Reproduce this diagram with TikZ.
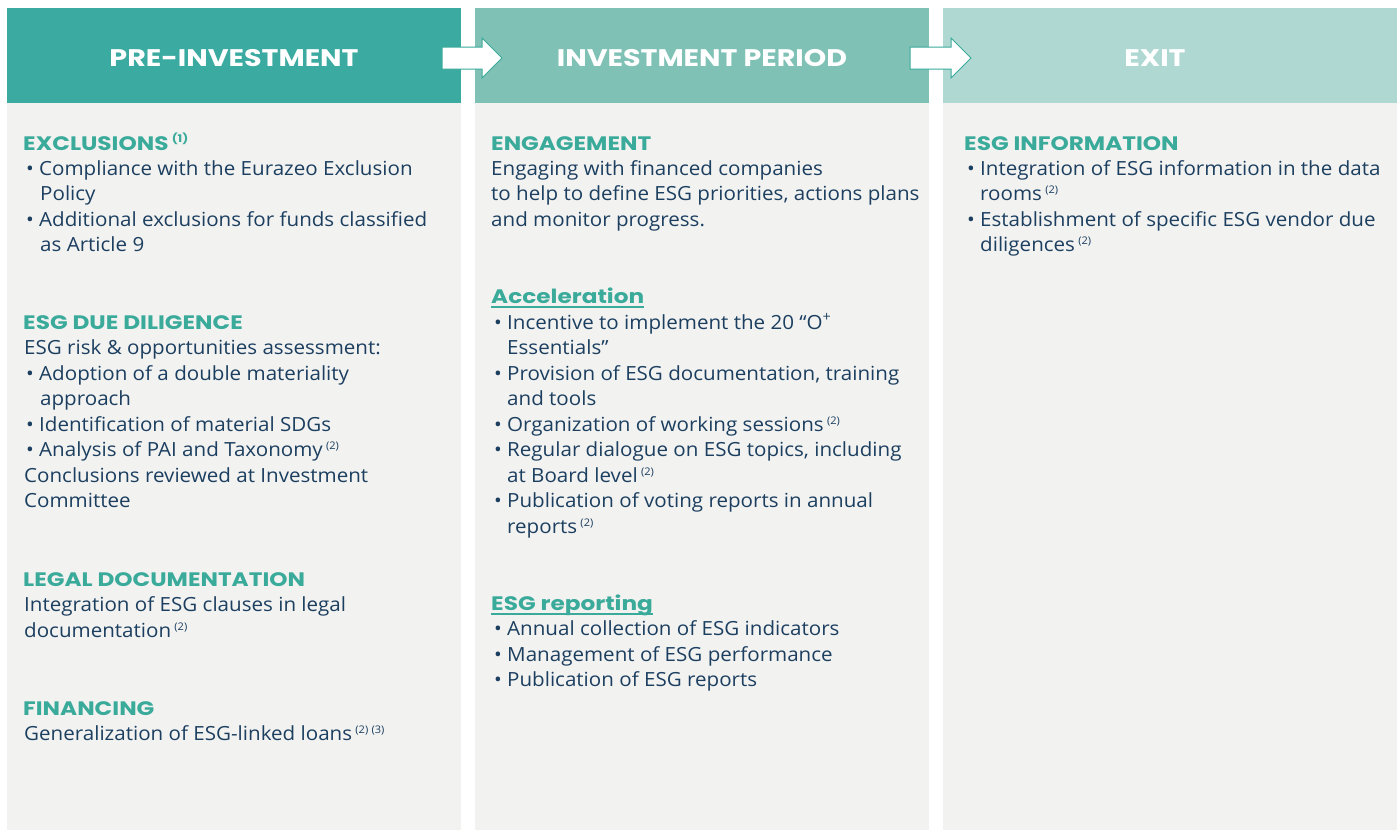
\documentclass[tikz,border=0pt]{standalone}
\usepackage{fontspec}
\setmainfont[FakeStretch=1.055]{Open Sans}
\newfontfamily\headfont[FakeStretch=1.19]{Poppins}
\definecolor{hdA}{HTML}{3BAAA0}
\definecolor{hdB}{HTML}{80C1B6}
\definecolor{hdC}{HTML}{AFD8D3}
\definecolor{panel}{HTML}{F2F2F1}
\definecolor{tealh}{HTML}{3AAA9A}
\definecolor{navy}{HTML}{1C3F60}
\newcommand\fnote[1]{\,\raisebox{0.65ex}{\fontsize{10.5}{11}\selectfont(#1)}}
\newcommand\mytext[4]{\node[body] (#1) at (#2,#3) {#4};}
\newcommand\mybul[4]{\node[body] (#1b) at (#2,#3) {\textbullet}; \node[body] (#1) at (#2+13,#3) {#4};}
\newcommand\myhead[4]{\node[sect] (#1) at (#2,#3) {#4};}
\begin{document}
\begin{tikzpicture}[x=1pt,y=-1pt,
  body/.style={anchor=base west, inner sep=0pt, font=\fontsize{19.5}{23}\selectfont, text=navy},
  sect/.style={anchor=base west, inner sep=0pt, font=\headfont\bfseries\fontsize{19.5}{23}\selectfont, text=tealh},
  hdr/.style={anchor=north west, inner sep=0pt, minimum width=454pt, minimum height=95pt},
  pnl/.style={anchor=north west, inner sep=0pt, minimum width=454pt, minimum height=727pt, fill=panel},
  title/.style={font=\headfont\bfseries\fontsize{24}{28}\selectfont, text=white, inner sep=0pt},
  arr/.style={fill=white, draw=tealh, line width=1pt, line join=miter}
]
\useasboundingbox (0,0) rectangle (1400,830);
\fill[white] (0,0) rectangle (1400,830);
% panels
\node[pnl] (p1) at (7,103) {};
\node[pnl] (p2) at (475,103) {};
\node[pnl] (p3) at (943,103) {};
\node[hdr, fill=hdA] (h1) at (7,8) {};
\node[hdr, fill=hdB] (h2) at (475,8) {};
\node[hdr, fill=hdC] (h3) at (943,8) {};
\node[title] (t1) at (234,58) {PRE-INVESTMENT};
\node[title] (t2) at (702,58) {INVESTMENT PERIOD};
\node[title] (t3) at (1155,58) {EXIT};
% arrows
\draw[arr] (442,47) -- (482,47) -- (482,38) -- (502,58) -- (482,78) -- (482,69) -- (442,69) -- cycle;
\draw[arr] (910,47) -- (951,47) -- (951,38) -- (971,58) -- (951,78) -- (951,69) -- (910,69) -- cycle;
% column 1
\myhead{a1}{23}{150}{EXCLUSIONS\fnote{1}}
\mybul{a2}{26}{175}{Compliance with the Eurazeo Exclusion}
\mytext{a3}{40}{200}{Policy}
\mybul{a4}{26}{226}{Additional exclusions for funds classified}
\mytext{a5}{40}{251}{as Article 9}
\myhead{b1}{23}{329}{ESG DUE DILIGENCE}
\mytext{b2}{24}{354}{ESG risk \& opportunities assessment:}
\mybul{b3}{26}{380}{Adoption of a double materiality}
\mytext{b4}{40}{405}{approach}
\mybul{b5}{26}{431}{Identification of material SDGs}
\mybul{b6}{26}{456}{Analysis of PAI and Taxonomy\fnote{2}}
\mytext{b7}{24}{482}{Conclusions reviewed at Investment}
\mytext{b8}{24}{507}{Committee}
\myhead{c1}{23}{586}{LEGAL DOCUMENTATION}
\mytext{c2}{24}{611}{Integration of ESG clauses in legal}
\mytext{c3}{24}{637}{documentation\fnote{2}}
\myhead{d1}{23}{715}{FINANCING}
\mytext{d2}{24}{740}{Generalization of ESG-linked loans\fnote{2}\fnote{3}}
% column 2
\myhead{e1}{491}{150}{ENGAGEMENT}
\mytext{e2}{491}{175}{Engaging with financed companies}
\mytext{e3}{491}{200}{to help to define ESG priorities, actions plans}
\mytext{e4}{491}{226}{and monitor progress.}
\myhead{f1}{491}{303}{Acceleration}
\draw[tealh, line width=1.6pt] ([yshift=-4pt]f1.base west) -- ([yshift=-4pt]f1.base east);
\mybul{f2}{494}{329}{Incentive to implement the 20 “O\textsuperscript{+}}
\mytext{f3}{507}{354}{Essentials”}
\mybul{f4}{494}{380}{Provision of ESG documentation, training}
\mytext{f5}{507}{405}{and tools}
\mybul{f6}{494}{431}{Organization of working sessions\fnote{2}}
\mybul{f7}{494}{456}{Regular dialogue on ESG topics, including}
\mytext{f8}{507}{482}{at Board level\fnote{2}}
\mybul{f9}{494}{507}{Publication of voting reports in annual}
\mytext{f10}{507}{533}{reports\fnote{2}}
\myhead{g1}{491}{610}{ESG reporting}
\draw[tealh, line width=1.6pt] ([yshift=-4pt]g1.base west) -- ([yshift=-4pt]g1.base east);
\mybul{g2}{494}{635}{Annual collection of ESG indicators}
\mybul{g3}{494}{661}{Management of ESG performance}
\mybul{g4}{494}{686}{Publication of ESG reports}
% column 3
\myhead{k1}{964}{150}{ESG INFORMATION}
\mybul{k2}{967}{175}{Integration of ESG information in the data}
\mytext{k3}{980}{200}{rooms\fnote{2}}
\mybul{k4}{967}{226}{Establishment of specific ESG vendor due}
\mytext{k5}{980}{251}{diligences\fnote{2}}
\end{tikzpicture}
\end{document}
